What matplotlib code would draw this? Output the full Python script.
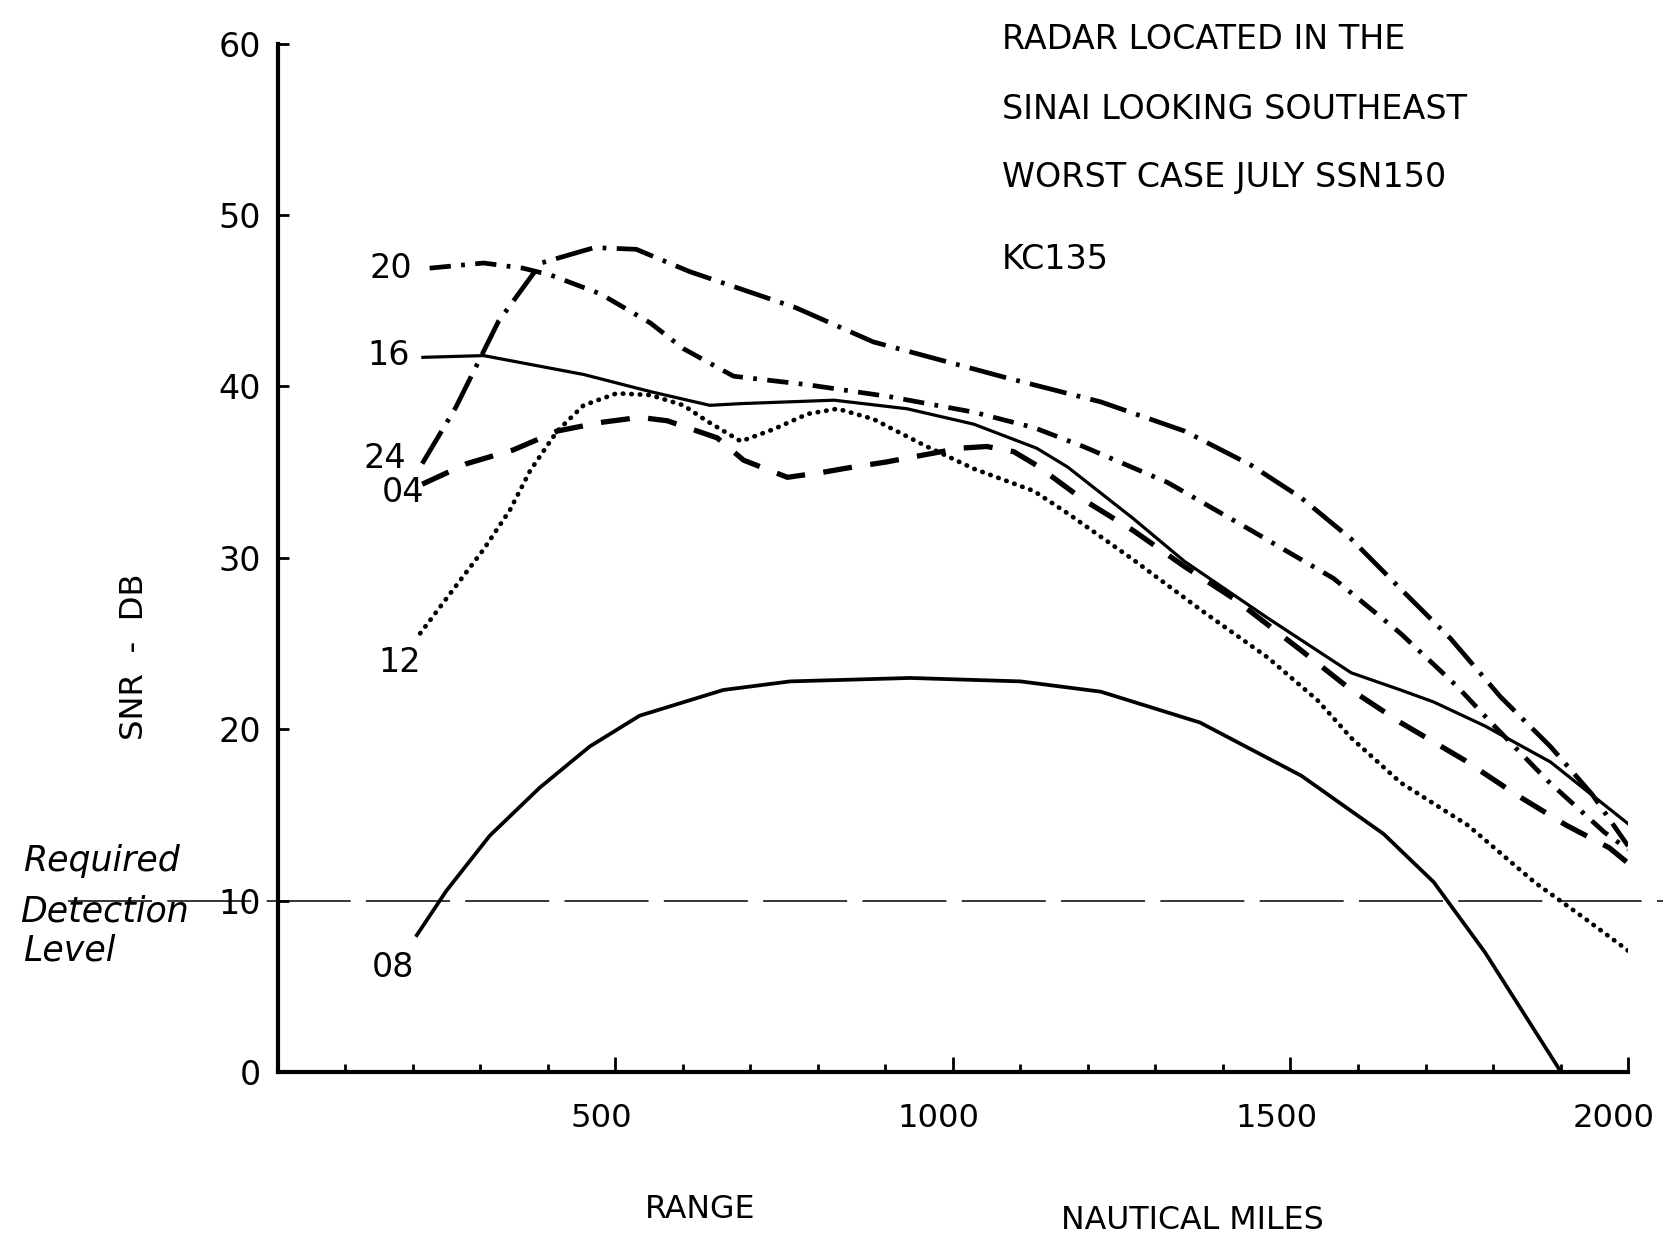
import matplotlib
matplotlib.use('Agg')
import matplotlib.pyplot as plt
from matplotlib import font_manager, transforms

# range in nautical miles, snr in db, one pair per hour curve
range_24 = [214, 264, 327, 390, 469, 531, 610, 767, 882, 1080, 1219, 1343, 1442, 1516, 1590, 1663, 1737, 1811, 1885, 1947, 2000]
snr_24 = [35.5, 38.8, 43.8, 47.2, 48.1, 48.0, 46.7, 44.6, 42.6, 40.5, 39.1, 37.4, 35.4, 33.5, 31.1, 28.2, 25.3, 21.9, 19.0, 16.2, 13.2]

range_20 = [225, 305, 363, 404, 478, 552, 601, 675, 785, 907, 1031, 1120, 1193, 1318, 1442, 1564, 1663, 1747, 1797, 1881, 1965, 2000]
snr_20 = [46.9, 47.2, 46.9, 46.5, 45.4, 43.7, 42.2, 40.6, 40.1, 39.4, 38.5, 37.6, 36.5, 34.4, 31.6, 28.8, 25.6, 22.5, 20.4, 17.0, 14.0, 13.0]

range_16 = [215, 305, 453, 552, 640, 686, 824, 932, 1031, 1124, 1170, 1267, 1343, 1466, 1590, 1663, 1712, 1788, 1885, 2000]
snr_16 = [41.7, 41.8, 40.7, 39.7, 38.9, 39.0, 39.2, 38.7, 37.8, 36.4, 35.3, 32.3, 29.8, 26.5, 23.3, 22.3, 21.6, 20.2, 18.1, 14.5]

range_04 = [214, 280, 349, 414, 478, 536, 577, 651, 690, 755, 808, 852, 902, 942, 1011, 1050, 1090, 1124, 1193, 1267, 1343, 1417, 1516, 1590, 1663, 1758, 1834, 1909, 1972, 2000]
snr_04 = [34.3, 35.5, 36.3, 37.4, 37.9, 38.2, 38.0, 37.0, 35.7, 34.7, 35.0, 35.3, 35.6, 35.9, 36.4, 36.5, 36.2, 35.4, 33.4, 31.6, 29.5, 27.6, 24.6, 22.3, 20.4, 18.2, 16.2, 14.4, 13.1, 12.2]

range_12 = [211, 255, 305, 344, 374, 414, 453, 502, 552, 601, 635, 686, 734, 785, 829, 882, 956, 1031, 1120, 1170, 1267, 1366, 1466, 1540, 1590, 1663, 1763, 1861, 1935, 2000]
snr_12 = [25.6, 27.9, 30.5, 32.8, 35.1, 37.4, 38.9, 39.6, 39.5, 38.9, 38.0, 36.8, 37.5, 38.4, 38.7, 38.1, 36.6, 35.2, 33.9, 32.6, 29.9, 27.0, 24.2, 21.7, 19.5, 16.9, 14.4, 11.1, 9.0, 7.1]

range_08 = [206, 250, 314, 388, 462, 536, 660, 759, 937, 1100, 1219, 1366, 1516, 1638, 1712, 1788, 1901]
snr_08 = [8.0, 10.6, 13.8, 16.6, 19.0, 20.8, 22.3, 22.8, 23.0, 22.8, 22.2, 20.4, 17.3, 13.9, 11.1, 7.0, 0.0]

required_level = 10
x_major = [500, 1000, 1500, 2000]
x_minor = [100, 200, 300, 400, 600, 700, 800, 900, 1100, 1200, 1300, 1400, 1600, 1700, 1800, 1900]
y_ticks = [0, 10, 20, 30, 40, 50, 60]

# curve name, label position
curve_labels = [('20', 167, 46.9), ('16', 164, 41.8), ('24', 159, 35.8),
                ('04', 186, 33.8), ('12', 181, 23.9), ('08', 170, 6.1)]

title_lines = ['RADAR LOCATED IN THE', 'SINAI LOOKING SOUTHEAST',
               'WORST CASE JULY SSN150', 'KC135']

names = set(f.name for f in font_manager.fontManager.ttflist)
if 'Liberation Sans Narrow' in names:
    FONT, k = 'Liberation Sans Narrow', 1.0
else:
    FONT, k = 'DejaVu Sans', 0.8
plt.rcParams['font.family'] = FONT

fig = plt.figure(figsize=(16.63, 12.44), dpi=100)
ax = fig.add_axes([0.167, 0.138, 0.812, 0.827])

ax.plot(range_24, snr_24, color='black', lw=3.4, dashes=(8, 2.2, 0.8, 2.2))
ax.plot(range_20, snr_20, color='black', lw=3.4, dashes=(4.5, 2.2, 0.8, 2.2))
ax.plot(range_16, snr_16, color='black', lw=2.3)
ax.plot(range_04, snr_04, color='black', lw=3.8, dashes=(5.5, 3.5))
ax.plot(range_12, snr_12, color='black', lw=3.4, dashes=(0.1, 1.7), dash_capstyle='round')
ax.plot(range_08, snr_08, color='black', lw=2.7)

# required detection level, runs past the axes on both sides
ax.plot([-310, 2060], [required_level, required_level], color='black', lw=1.1,
        dashes=(55, 10), clip_on=False)

for name, x, y in curve_labels:
    ax.text(x, y, name, fontsize=30 * k, ha='center', va='center')

ax.set_xlim(0, 2000)
ax.set_ylim(0, 60)
ax.spines['top'].set_visible(False)
ax.spines['right'].set_visible(False)
ax.spines['left'].set_linewidth(3)
ax.spines['bottom'].set_linewidth(3)

ax.set_xticks(x_major)
ax.set_xticks(x_minor, minor=True)
ax.set_yticks(y_ticks)
ax.tick_params(axis='x', which='major', direction='in', length=11, width=2,
               labelsize=29 * k, pad=22)
ax.tick_params(axis='x', which='minor', direction='in', length=6, width=2)
ax.tick_params(axis='y', direction='in', length=8, width=2, labelsize=30 * k, pad=12)

# the typed labels sit a little left of their ticks
shift = transforms.ScaledTranslation(-0.14, 0, fig.dpi_scale_trans)
for lab in ax.get_xticklabels():
    lab.set_transform(lab.get_transform() + shift)

for i, line in enumerate(title_lines):
    y = [0.968, 0.912, 0.857, 0.791][i]
    fig.text(0.6025, y, line, fontsize=30 * k, ha='left', va='center')

fig.text(0.081, 0.472, 'SNR  -  DB', fontsize=29 * k, rotation=90, ha='center', va='center')
fig.text(0.421, 0.028, 'RANGE', fontsize=28.5 * k, ha='center', va='center')
fig.text(0.717, 0.019, 'NAUTICAL MILES', fontsize=28.5 * k, ha='center', va='center')

fig.text(0.014, 0.308, 'Required', fontsize=25, family='DejaVu Sans', style='italic', va='center')
fig.text(0.012, 0.267, 'Detection', fontsize=25, family='DejaVu Sans', style='italic', va='center')
fig.text(0.014, 0.236, 'Level', fontsize=25, family='DejaVu Sans', style='italic', va='center')

fig.savefig('out.png', dpi=100, facecolor='white')
